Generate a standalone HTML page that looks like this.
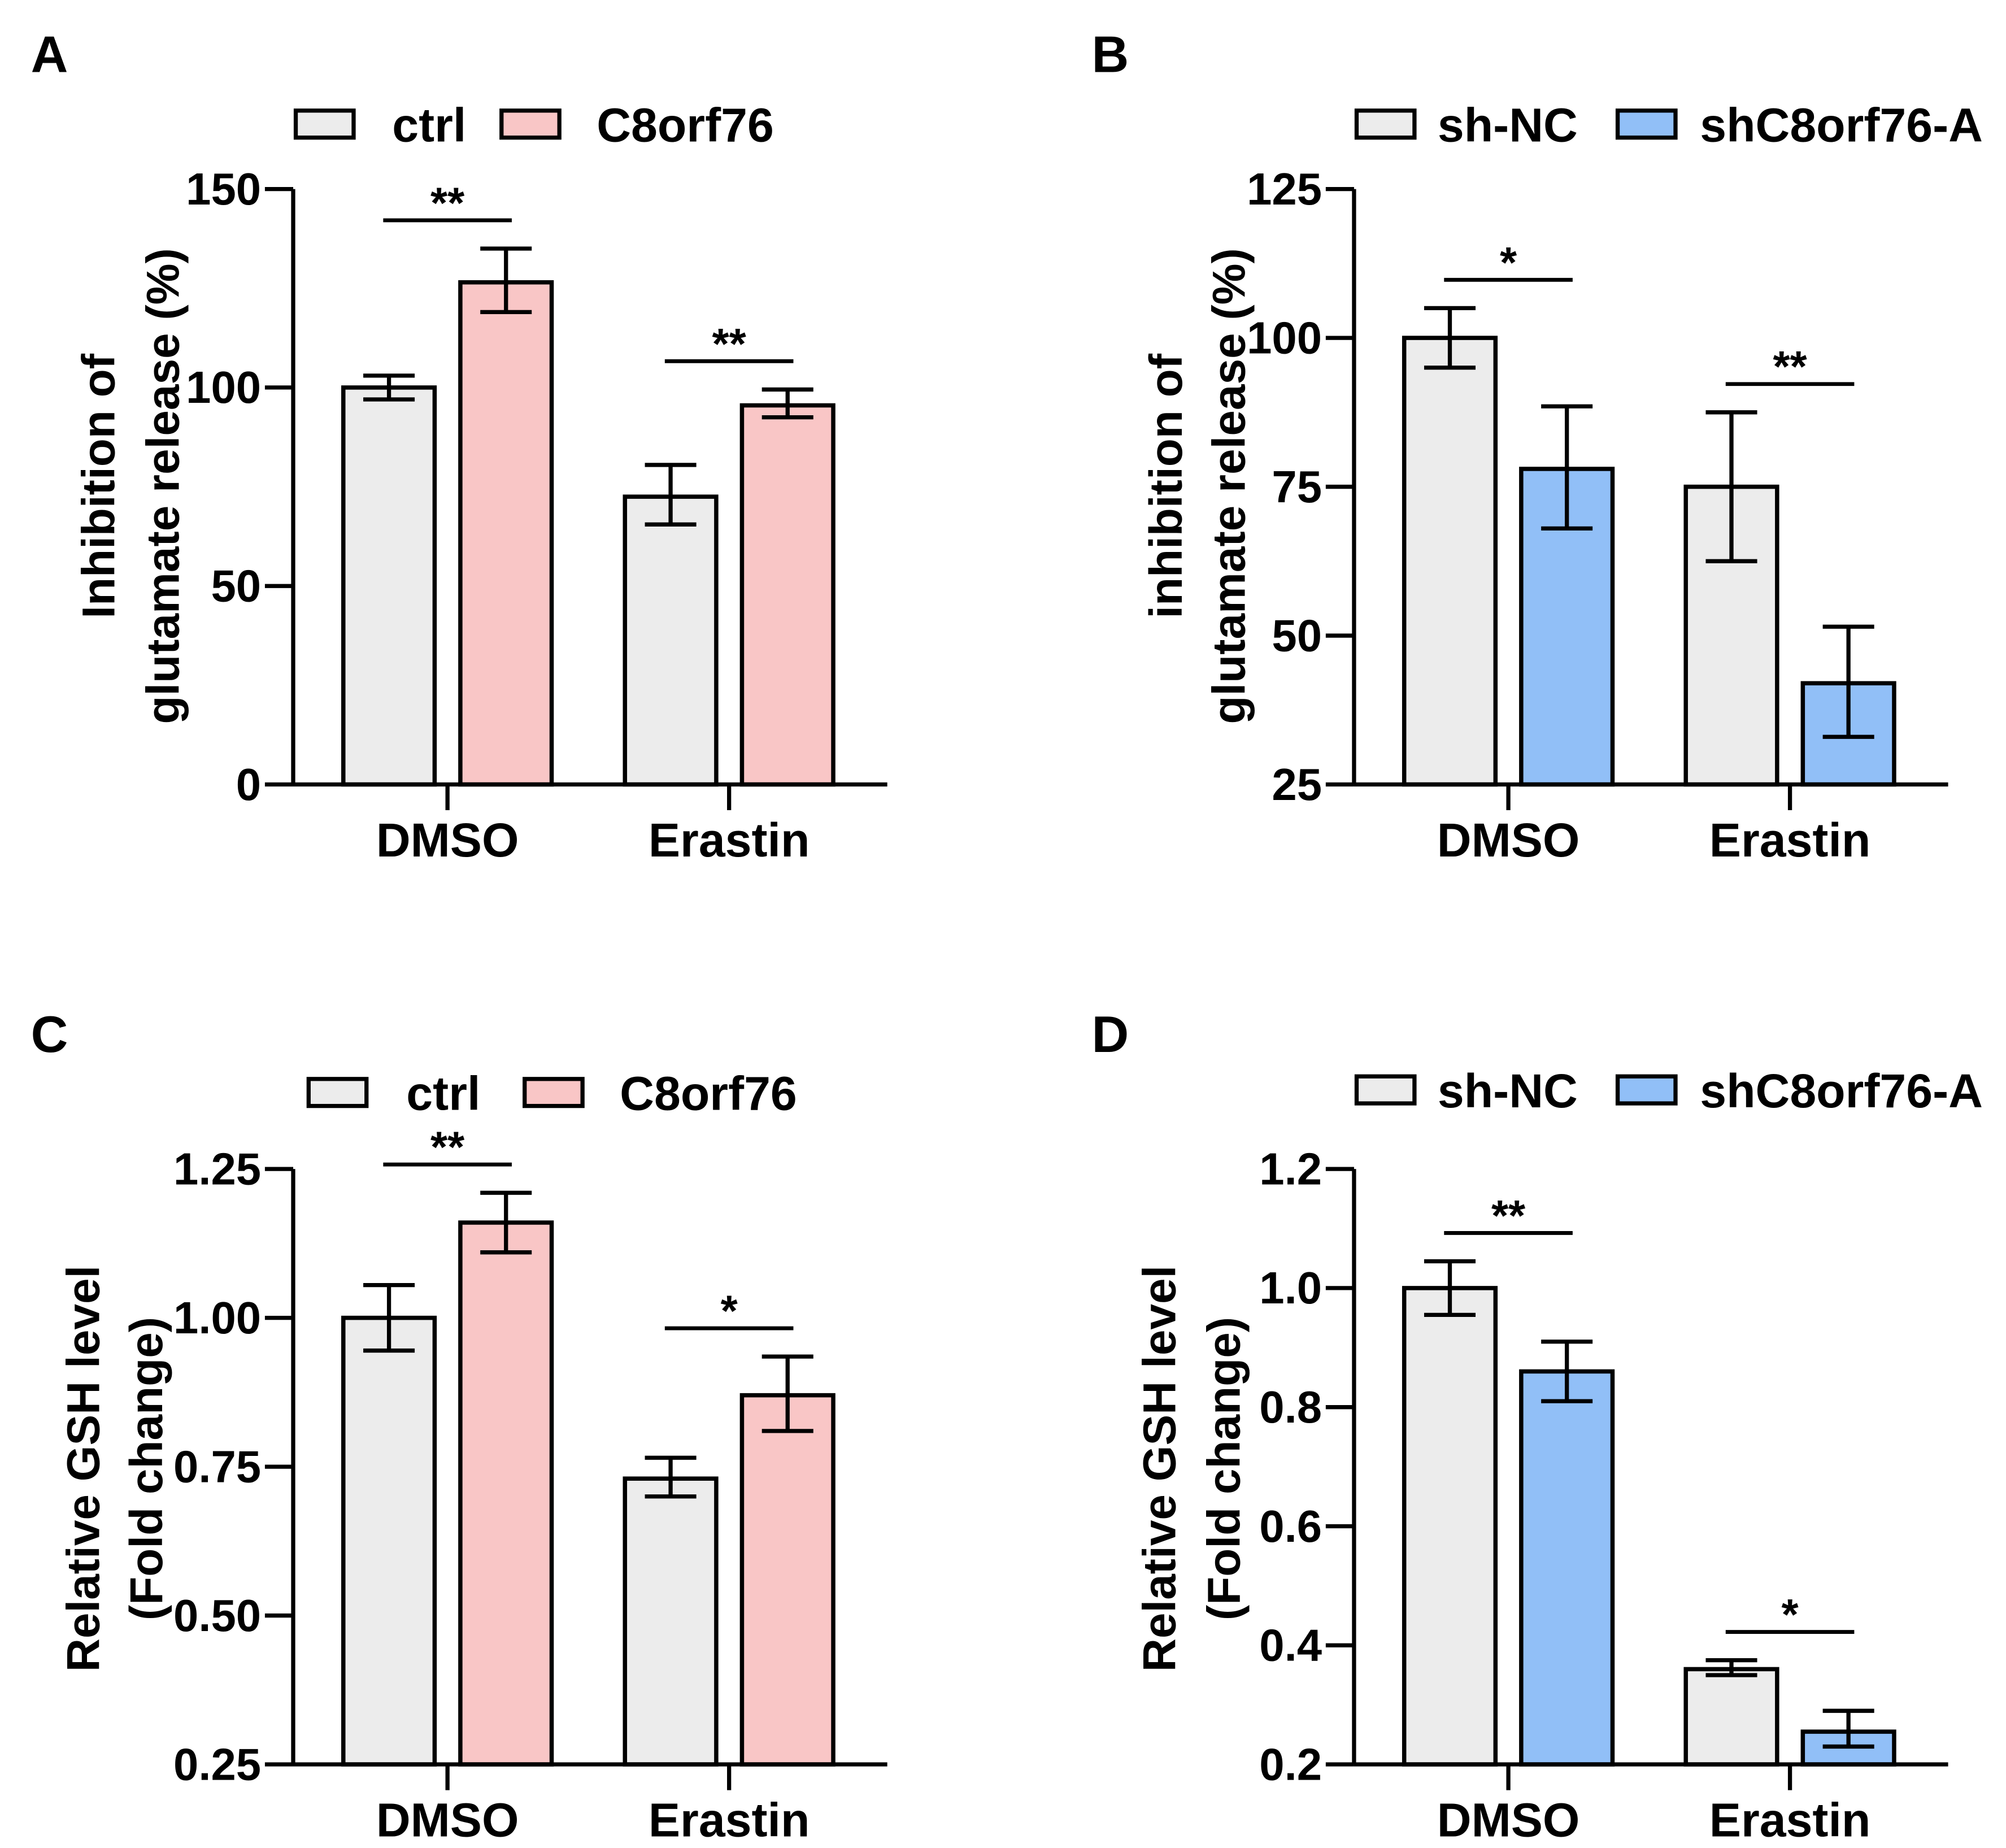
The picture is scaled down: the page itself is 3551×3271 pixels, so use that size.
<!DOCTYPE html>
<html><head><meta charset="utf-8">
<style>
html,body{margin:0;padding:0;background:#fff;}
svg{display:block;}
text{font-family:"Liberation Sans",Arial,sans-serif;font-weight:bold;fill:#000;}
</style></head>
<body>
<svg id="fig" width="3551" height="3271" viewBox="0 0 1560 1437" xmlns="http://www.w3.org/2000/svg"></svg>
<script>
// Panel A data
const catsA = ["DMSO", "Erastin"];
const seriesA = ["ctrl", "C8orf76"];
const meansA = [[100, 72.5], [126.5, 95.5]];
const errLoA = [[97, 65.5], [119, 92.5]];
const errHiA = [[103, 80.5], [135, 99.5]];
const ticksA = [0, 50, 100, 150];
const tickLabelsA = ["0", "50", "100", "150"];
const sigA = ["**", "**"];
// Panel B data
const catsB = ["DMSO", "Erastin"];
const seriesB = ["sh-NC", "shC8orf76-A"];
const meansB = [[100, 75], [78, 42]];
const errLoB = [[95, 62.5], [68, 33]];
const errHiB = [[105, 87.5], [88.5, 51.5]];
const ticksB = [25, 50, 75, 100, 125];
const tickLabelsB = ["25", "50", "75", "100", "125"];
const sigB = ["*", "**"];
// Panel C data
const catsC = ["DMSO", "Erastin"];
const seriesC = ["ctrl", "C8orf76"];
const meansC = [[1.0, 0.73], [1.16, 0.87]];
const errLoC = [[0.945, 0.70], [1.11, 0.81]];
const errHiC = [[1.055, 0.765], [1.21, 0.935]];
const ticksC = [0.25, 0.5, 0.75, 1.0, 1.25];
const tickLabelsC = ["0.25", "0.50", "0.75", "1.00", "1.25"];
const sigC = ["**", "*"];
// Panel D data
const catsD = ["DMSO", "Erastin"];
const seriesD = ["sh-NC", "shC8orf76-A"];
const meansD = [[1.0, 0.36], [0.86, 0.255]];
const errLoD = [[0.955, 0.35], [0.81, 0.23]];
const errHiD = [[1.045, 0.375], [0.91, 0.29]];
const ticksD = [0.2, 0.4, 0.6, 0.8, 1.0, 1.2];
const tickLabelsD = ["0.2", "0.4", "0.6", "0.8", "1.0", "1.2"];
const sigD = ["**", "*"];

const NS = "http://www.w3.org/2000/svg";
const svg = document.getElementById("fig");
function mk(tag, attrs, parent, txt) {
  const e = document.createElementNS(NS, tag);
  for (const k in attrs) e.setAttribute(k, attrs[k]);
  if (txt !== undefined) e.textContent = txt;
  (parent || svg).appendChild(e);
  return e;
}

function panel(cfg) {
  const g = mk("g", {transform: "translate(" + cfg.dx + "," + cfg.dy + ")"});
  
  
  const x0 = 228, yTop = 147, yBot = 610, xEnd = 690;
  const ymin = cfg.ticks[0], ymax = cfg.ticks[cfg.ticks.length - 1];
  const Y = v => yBot - (v - ymin) / (ymax - ymin) * (yBot - yTop);
  const catX = [348, 567];
  const offs = [-45.5, 45.5], bw = 71;
  const L = mk("text", {x: 24, y: 56, "font-size": 40}, g, cfg.letter);
  
  
  for (let s = 0; s < 2; s++) {
    const r = mk("rect", {x: cfg.leg[s * 2], y: cfg.legY - 21, width: 45, height: 21, fill: cfg.colors[s], stroke: "#000", "stroke-width": 3.2}, g);
    
    
    const t = mk("text", {x: cfg.leg[s * 2 + 1], y: cfg.legY + 3, "font-size": 37}, g, cfg.series[s]);
    
    
  }
  for (let s = 0; s < 2; s++) {
    for (let c = 0; c < 2; c++) {
      const cx = catX[c] + offs[s];
      const yv = Y(cfg.means[s][c]);
      const b = mk("rect", {x: cx - bw / 2, y: yv, width: bw, height: yBot - yv, fill: cfg.colors[s], stroke: "#000", "stroke-width": 3.3}, g);
      
      
      const lo = Y(cfg.lo[s][c]), hi = Y(cfg.hi[s][c]);
      const eb = mk("path", {d: "M" + cx + " " + lo + "V" + hi + "M" + (cx - 20) + " " + lo + "H" + (cx + 20) + "M" + (cx - 20) + " " + hi + "H" + (cx + 20), stroke: "#000", "stroke-width": 3.2, fill: "none"}, g);
      
      
    }
  }
  for (let c = 0; c < 2; c++) {
    const yl = Math.min(Y(cfg.hi[0][c]), Y(cfg.hi[1][c])) - 22;
    const ln = mk("line", {x1: catX[c] - 50, x2: catX[c] + 50, y1: yl, y2: yl, stroke: "#000", "stroke-width": 3}, g);
    
    
    const st = mk("text", {x: catX[c], y: yl - 2, "font-size": 34, "text-anchor": "middle"}, g, cfg.sig[c]);
    
    
  }
  const ya = mk("line", {x1: x0, x2: x0, y1: yTop, y2: yBot, stroke: "#000", "stroke-width": 3.2}, g);
  
  
  const xa = mk("line", {x1: x0, x2: xEnd, y1: yBot, y2: yBot, stroke: "#000", "stroke-width": 3.2}, g);
  
  
  cfg.ticks.forEach((v, i) => {
    const tk = mk("line", {x1: x0 - 22, x2: x0, y1: Y(v), y2: Y(v), stroke: "#000", "stroke-width": 3.2}, g);
    
    
    const tl = mk("text", {x: x0 - 25, y: Y(v) + 12, "font-size": 35, "text-anchor": "end"}, g, cfg.tickLabels[i]);
    
    
  });
  cfg.cats.forEach((c, i) => {
    const tk = mk("line", {x1: catX[i], x2: catX[i], y1: yBot, y2: yBot + 20, stroke: "#000", "stroke-width": 3.2}, g);
    
    
    const tl = mk("text", {x: catX[i], y: yBot + 56, "font-size": 37, "text-anchor": "middle"}, g, c);
    
    
  });
  cfg.ytitle.forEach((t, i) => {
    const tt = mk("text", {x: 0, y: 0, "font-size": 36, "text-anchor": "middle", transform: "translate(" + cfg.ytx[i] + "," + cfg.yty + ") rotate(-90)"}, g, t);
    
    
  });
}

const gray = "#ececec", pink = "#f9c6c6", blue = "#91bff7";
panel({name: "panel-a", letter: "A", dx: 0, dy: 0, cats: catsA, series: seriesA, means: meansA, lo: errLoA, hi: errHiA, ticks: ticksA, tickLabels: tickLabelsA, sig: sigA, colors: [gray, pink], leg: [230, 305, 390, 464], legY: 107, ytitle: ["Inhibition of", "glutamate release (%)"], ytx: [89, 139], yty: 378});
panel({name: "panel-b", letter: "B", dx: 825, dy: 0, cats: catsB, series: seriesB, means: meansB, lo: errLoB, hi: errHiB, ticks: ticksB, tickLabels: tickLabelsB, sig: sigB, colors: [gray, blue], leg: [230, 293, 433, 497], legY: 107, ytitle: ["inhibition of", "glutamate release (%)"], ytx: [94, 143], yty: 378});
panel({name: "panel-c", letter: "C", dx: 0, dy: 762, cats: catsC, series: seriesC, means: meansC, lo: errLoC, hi: errHiC, ticks: ticksC, tickLabels: tickLabelsC, sig: sigC, colors: [gray, pink], leg: [240, 316, 408, 482], legY: 98, ytitle: ["Relative GSH level", "(Fold change)"], ytx: [77, 126], yty: 380});
panel({name: "panel-d", letter: "D", dx: 825, dy: 762, cats: catsD, series: seriesD, means: meansD, lo: errLoD, hi: errHiD, ticks: ticksD, tickLabels: tickLabelsD, sig: sigD, colors: [gray, blue], leg: [230, 293, 433, 497], legY: 96, ytitle: ["Relative GSH level", "(Fold change)"], ytx: [89, 139], yty: 380});
</script>
</body></html>
